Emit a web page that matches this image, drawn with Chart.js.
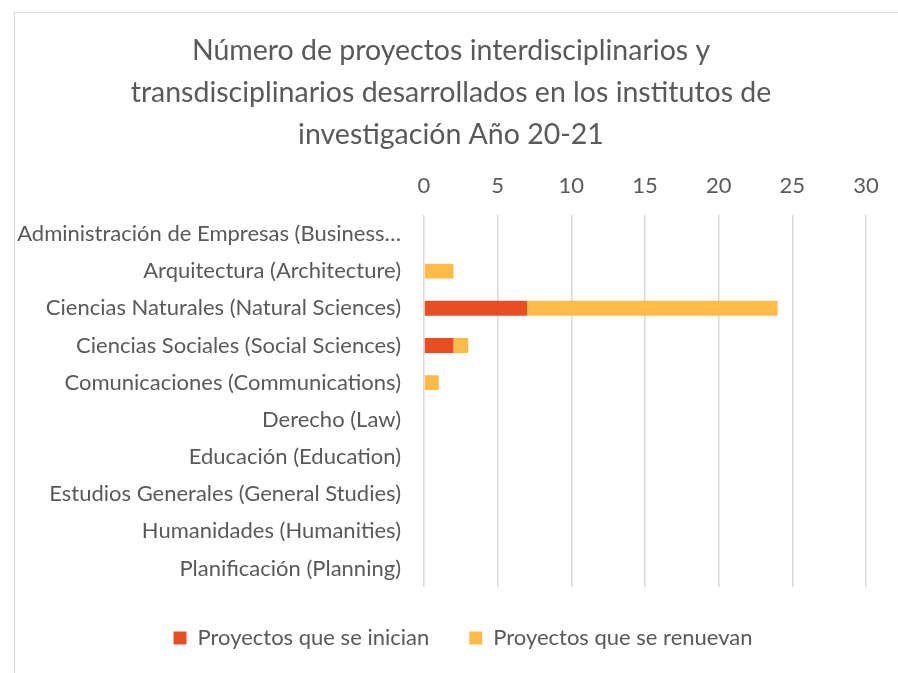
<!DOCTYPE html>
<html>
<head>
<meta charset="utf-8">
<script src="https://cdn.jsdelivr.net/npm/chart.js@4/dist/chart.umd.min.js"></script>
<style>
  html, body { margin: 0; padding: 0; background: #fff; }
  #wrap { position: relative; width: 898px; height: 673px; }
  #frame { position: absolute; left: 14px; top: 12px; width: 900px; height: 700px;
           border-left: 1.5px solid #d9d9d9; border-top: 1.5px solid #d9d9d9; }
  canvas { position: absolute; left: 0; top: 0; }
</style>
</head>
<body>
<div id="wrap">
  <div id="frame"></div>
  <canvas id="myChart" width="898" height="673"></canvas>
</div>
<script>
// datos
const categorias = [
  'Administración de Empresas (Business…',
  'Arquitectura (Architecture)',
  'Ciencias Naturales (Natural Sciences)',
  'Ciencias Sociales (Social Sciences)',
  'Comunicaciones (Communications)',
  'Derecho (Law)',
  'Educación (Education)',
  'Estudios Generales (General Studies)',
  'Humanidades (Humanities)',
  'Planificación (Planning)'
];
const seInician   = [0, 0, 7, 2, 0, 0, 0, 0, 0, 0];
const seRenuevan  = [0, 2, 17, 1, 1, 0, 0, 0, 0, 0];
const ejeX = { min: 0, max: 30, paso: 5 };

const fuente = 'Lato, "Open Sans", sans-serif';
const gris = '#595959';

// centra titulo y leyenda como en excel (no sobre el area de ejes)
const moverBloques = {
  id: 'moverBloques',
  afterLayout(chart) {
    chart.titleBlock.left += 11;
    chart.titleBlock.right += 11;
    chart.legend.left += 23;
    chart.legend.right += 23;
  }
};

const ctx = document.getElementById('myChart');
const chartProyectos = new Chart(ctx, {
  type: 'bar',
  data: {
    labels: categorias,
    datasets: [{
      label: 'Proyectos que se inician',
      data: seInician,
      backgroundColor: '#E84E24',
      barPercentage: 0.4,
      categoryPercentage: 1
    }, {
      label: 'Proyectos que se renuevan',
      data: seRenuevan,
      backgroundColor: '#FFBB47',
      barPercentage: 0.4,
      categoryPercentage: 1
    }]
  },
  options: {
    indexAxis: 'y',
    responsive: false,
    animation: false,
    layout: { padding: { left: 14, right: 32, top: 0, bottom: 14 } },
    plugins: {
      title: {
        display: true,
        text: ['Número de proyectos interdisciplinarios y',
               'transdisciplinarios desarrollados en los institutos de',
               'investigación Año 20-21'],
        color: gris,
        font: { family: fuente, size: 28.5, weight: 'normal', lineHeight: '42px' },
        padding: { top: 30, bottom: 0 }
      },
      legend: {
        position: 'bottom',
        labels: {
          color: gris,
          font: { family: fuente, size: 22 },
          boxWidth: 13,
          boxHeight: 13,
          padding: 40
        }
      },
      tooltip: { enabled: false }
    },
    scales: {
      x: {
        position: 'top',
        stacked: true,
        min: ejeX.min,
        max: ejeX.max,
        ticks: { stepSize: ejeX.paso, color: gris, padding: 16.5, font: { family: fuente, size: 22 } },
        grid: { color: '#d9d9d9', lineWidth: 1.5, drawTicks: false },
        border: { display: false }
      },
      y: {
        stacked: true,
        ticks: { color: gris, padding: 23, font: { family: fuente, size: 22 } },
        grid: { display: false, drawTicks: false },
        border: { display: false },
        afterFit: (scale) => { scale.width = 410; }
      }
    }
  },
  plugins: [moverBloques]
});
</script>
</body>
</html>
